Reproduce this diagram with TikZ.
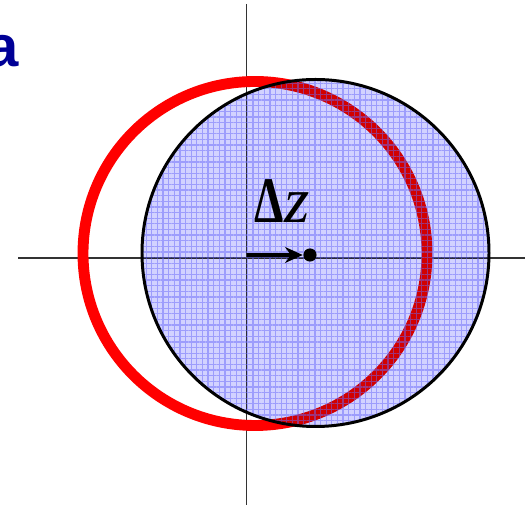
\documentclass[tikz,border=0pt]{standalone}
\usepackage{amsmath,amssymb}
\usepackage{fontspec}
\newfontfamily\labelfont{Liberation Sans}
\newfontfamily\symbfont{Liberation Serif}
\usepackage{tikz}
\usetikzlibrary{patterns.meta,arrows.meta}

\definecolor{ringred}{RGB}{255,0,0}
\definecolor{discblue}{RGB}{210,210,255}
\definecolor{gridblue}{RGB}{105,105,250}
\definecolor{tagblue}{RGB}{0,0,150}

\begin{document}
\begin{tikzpicture}[x=0.2mm, y=0.2mm, thick]
      \useasboundingbox (0,0) rectangle (529,505);
      % Define coordinates
      \coordinate (top) at (246.5, 501);
      \coordinate (bottom) at (246.5, 0);
      \coordinate (left) at (18, 247);
      \coordinate (right) at (525, 247);
      \coordinate (red_center) at (255, 251.5);
      \coordinate (blue_center) at (315.5, 252);
      \coordinate (shift_start) at (246.5, 250);

      % Draw the axes
      \draw[line width=0.85pt, black!80] (top) -- (bottom);
      \draw[line width=0.85pt, black!80] (left) -- (right);

      % Draw the unshifted ring (red)
      \draw[ringred, line width=6.2pt] (red_center) circle (172);

      % Draw the shifted disc (blue, see-through)
      \fill[discblue, blend mode=multiply] (blue_center) circle (173.5);
      \fill[pattern={Hatch[angle=0, distance=3.2pt, line width=0.7pt]}, pattern color=gridblue, opacity=0.5] (blue_center) circle (173.5);
      \draw[line width=1.7pt] (blue_center) circle (173.5);

      % Draw the shift arrow and its end point
      \node[circle, fill, inner sep=0, minimum size=7.5pt] (dot) at (310, 250) {};
      \draw[line width=2.3pt, -{Stealth[length=10pt, width=9pt]}] (shift_start) -- (dot.west);
      \node[anchor=base west, inner sep=0] (shift) at (254, 282)
        {\symbfont\fontsize{37}{37}\selectfont\scalebox{0.72}[1]{\bfseries Δ}\itshape z};

      % Panel tag, cut at the left border
      \node[anchor=base west, inner sep=0, text=tagblue] (tag) at (-14, 438) {\labelfont\bfseries\fontsize{33}{33}\selectfont a};
    \end{tikzpicture}
\end{document}
